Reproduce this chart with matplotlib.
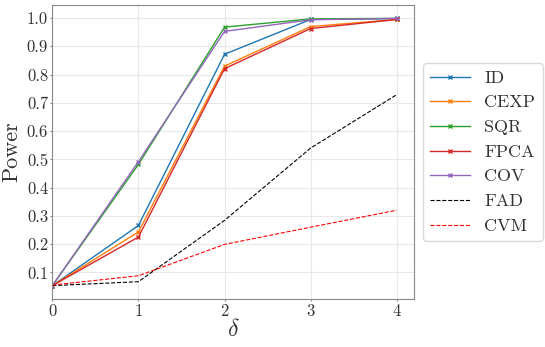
import matplotlib
matplotlib.use("Agg")
import matplotlib.pyplot as plt

plt.rcParams['font.family'] = 'serif'
plt.rcParams['font.serif'] = ['cmr10']
plt.rcParams['mathtext.fontset'] = 'cm'
plt.rcParams['axes.formatter.use_mathtext'] = True
plt.rcParams['text.color'] = '#333333'

# data
delta = [0, 1, 2, 3, 4]
power_id = [0.053, 0.266, 0.872, 0.995, 0.998]
power_cexp = [0.053, 0.243, 0.830, 0.970, 0.995]
power_sqr = [0.053, 0.482, 0.968, 0.997, 0.999]
power_fpca = [0.053, 0.225, 0.821, 0.963, 0.995]
power_cov = [0.053, 0.492, 0.953, 0.994, 0.999]
power_fad = [0.053, 0.067, 0.284, 0.540, 0.729]
power_cvm = [0.055, 0.088, 0.199, 0.260, 0.320]
yticks = [0.1, 0.2, 0.3, 0.4, 0.5, 0.6, 0.7, 0.8, 0.9, 1.0]

fig = plt.figure(figsize=(5.45, 3.47), dpi=100)
ax = fig.add_axes([0.096, 0.1383, 0.7596 - 0.096, 0.9856 - 0.1383])

ax.plot(delta, power_id, color='tab:blue', marker='x', ms=3, lw=1, label='ID')
ax.plot(delta, power_cexp, color='tab:orange', marker='x', ms=3, lw=1, label='CEXP')
ax.plot(delta, power_sqr, color='tab:green', marker='x', ms=3, lw=1, label='SQR')
ax.plot(delta, power_fpca, color='tab:red', marker='x', ms=3, lw=1, label='FPCA')
ax.plot(delta, power_cov, color='tab:purple', marker='x', ms=3, lw=1, label='COV')
ax.plot(delta, power_fad, color='black', ls='--', lw=0.8, label='FAD')
ax.plot(delta, power_cvm, color='red', ls='--', lw=0.8, label='CVM')

ax.set_xlim(0, 4.2)
ax.set_xticks(delta)
ax.set_yticks(yticks)
ax.set_yticklabels([f'{v:.1f}' for v in yticks])
ax.tick_params(labelsize=12, length=1.5, pad=1.5, color='#888888', labelcolor='#333333')
ax.grid(True, color='#e8e8e8', lw=0.8)
for s in ax.spines.values():
    s.set_color('#888888')

ax.set_xlabel(r'$\delta$', fontsize=17, labelpad=0, color='#333333')
ax.set_ylabel('Power', fontsize=16, labelpad=4, color='#333333')

ax.legend(loc='center left', bbox_to_anchor=(1.0, 0.5), fontsize=13,
          frameon=True, edgecolor='#d0d0d0', handlelength=2.2)

fig.savefig('out.png', dpi=100)
